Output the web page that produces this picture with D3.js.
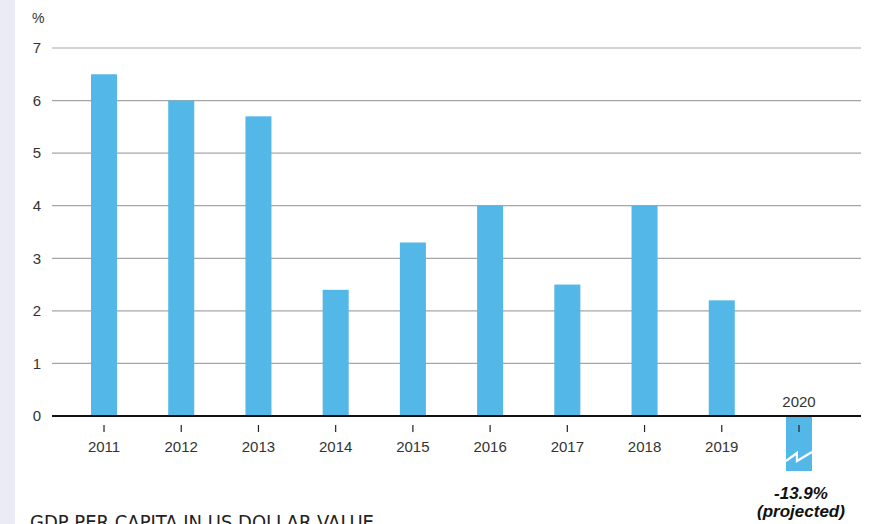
<!DOCTYPE html>
<html>
<head>
<meta charset="utf-8">
<script src="https://cdn.jsdelivr.net/npm/d3@7"></script>
<style>
  body { margin: 0; background: #fff; }
  svg { display: block; font-family: "Liberation Sans", Arial, sans-serif; }
</style>
</head>
<body>
<svg id="chart"></svg>
<script>
// data
var years = ["2011", "2012", "2013", "2014", "2015", "2016", "2017", "2018", "2019"];
var growth = [6.5, 6.0, 5.7, 2.4, 3.3, 4.0, 2.5, 4.0, 2.2];
var yTicks = [0, 1, 2, 3, 4, 5, 6, 7];
var projectedYear = "2020";
var projectedLabel = ["-13.9%", "(projected)"];

var width = 877, height = 524;
var svg = d3.select("#chart").attr("width", width).attr("height", height);

// pale strip down the left edge
svg.append("rect")
  .attr("x", 0).attr("y", 0)
  .attr("width", 15).attr("height", height)
  .attr("fill", "#ebebf5");

var x = d3.scaleBand()
  .domain(years.concat([projectedYear]))
  .range([91, 812])
  .paddingInner(0.663)
  .paddingOuter(0);

var y = d3.scaleLinear().domain([0, 7]).range([416, 48]);

// gridlines + y labels
var yAxis = svg.append("g");
yAxis.selectAll("line.grid")
  .data(yTicks.filter(function(d) { return d > 0; }))
  .enter()
  .append("line")
  .attr("class", "grid")
  .attr("x1", 52).attr("x2", 861)
  .attr("y1", function(d) { return y(d); })
  .attr("y2", function(d) { return y(d); })
  .attr("stroke", "#a6a6a6")
  .attr("stroke-width", 1.2);

yAxis.selectAll("text")
  .data(yTicks)
  .enter()
  .append("text")
  .attr("x", 41)
  .attr("y", function(d) { return y(d); })
  .attr("dy", "0.35em")
  .attr("text-anchor", "end")
  .attr("font-size", 15)
  .attr("fill", "#333")
  .text(function(d) { return d; });

svg.append("text")
  .attr("x", 32).attr("y", 23)
  .attr("font-size", 14)
  .attr("fill", "#333")
  .text("%");

// bars
svg.selectAll("rect.bar")
  .data(years)
  .enter()
  .append("rect")
  .attr("class", "bar")
  .attr("x", function(d) { return x(d); })
  .attr("y", function(d, i) { return y(growth[i]); })
  .attr("width", x.bandwidth())
  .attr("height", function(d, i) { return y(0) - y(growth[i]); })
  .attr("fill", "#53b7e8");

// projected 2020 bar, cut off with a break mark
var px = x(projectedYear), bw = x.bandwidth();
svg.append("rect")
  .attr("x", px).attr("y", y(0))
  .attr("width", bw).attr("height", 55)
  .attr("fill", "#53b7e8");
svg.append("path")
  .attr("d", "M" + px + "," + (y(0) + 45) +
    "L" + (px + bw * 0.42) + "," + (y(0) + 37) +
    "L" + (px + bw * 0.42) + "," + (y(0) + 45) +
    "L" + (px + bw) + "," + (y(0) + 36))
  .attr("fill", "none")
  .attr("stroke", "#fff")
  .attr("stroke-width", 2.2);

// baseline
svg.append("line")
  .attr("x1", 52).attr("x2", 861)
  .attr("y1", y(0)).attr("y2", y(0))
  .attr("stroke", "#111")
  .attr("stroke-width", 2);

// x ticks + labels
var xg = svg.append("g");
xg.selectAll("line")
  .data(x.domain())
  .enter()
  .append("line")
  .attr("x1", function(d) { return x(d) + bw / 2; })
  .attr("x2", function(d) { return x(d) + bw / 2; })
  .attr("y1", y(0) + 9).attr("y2", y(0) + 16)
  .attr("stroke", "#222")
  .attr("stroke-width", 1.2);

xg.selectAll("text")
  .data(years)
  .enter()
  .append("text")
  .attr("x", function(d) { return x(d) + bw / 2; })
  .attr("y", y(0) + 36)
  .attr("text-anchor", "middle")
  .attr("font-size", 15)
  .attr("fill", "#333")
  .text(function(d) { return d; });

svg.append("text")
  .attr("x", px + bw / 2).attr("y", y(0) - 9)
  .attr("text-anchor", "middle")
  .attr("font-size", 15)
  .attr("fill", "#333")
  .text(projectedYear);

svg.selectAll("text.proj")
  .data(projectedLabel)
  .enter()
  .append("text")
  .attr("class", "proj")
  .attr("x", px + bw / 2 + 2)
  .attr("y", function(d, i) { return 499 + i * 18; })
  .attr("text-anchor", "middle")
  .attr("font-size", 17)
  .attr("font-weight", "bold")
  .attr("font-style", "italic")
  .attr("fill", "#111")
  .text(function(d) { return d; });

// title of the next chart, cut by the bottom edge
svg.append("text")
  .attr("x", 30).attr("y", 529)
  .attr("font-family", "'Liberation Sans Narrow', 'DejaVu Sans Condensed', sans-serif")
  .attr("font-size", 20)
  .attr("fill", "#222")
  .text("GDP PER CAPITA IN US DOLLAR VALUE");
</script>
</body>
</html>
